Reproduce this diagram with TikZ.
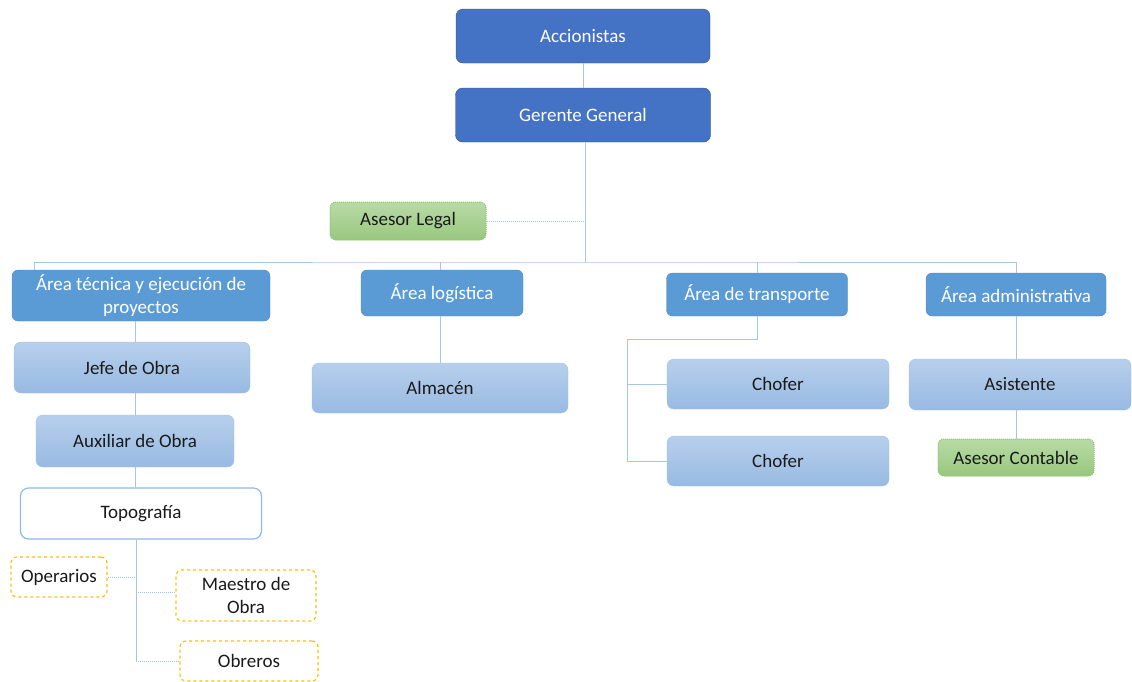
\documentclass[tikz,border=0pt]{standalone}
\usepackage{fontspec}
\setmainfont{Carlito}
\usepackage{tikz}
\usetikzlibrary{positioning, calc}
\definecolor{topblue}{HTML}{4472C4}
\definecolor{topedge}{HTML}{2F528F}
\definecolor{areablue}{HTML}{5B9BD5}
\definecolor{areaedge}{HTML}{4E8AC4}
\definecolor{paletop}{HTML}{B7CFEC}
\definecolor{palebot}{HTML}{98BAE2}
\definecolor{paleedge}{HTML}{9DC0E8}
\definecolor{linkblue}{HTML}{A5C6E8}
\definecolor{greentop}{HTML}{B9DAA6}
\definecolor{greenbot}{HTML}{98C87F}
\definecolor{greenedge}{HTML}{8CC06E}
\definecolor{gold}{HTML}{FFC000}
\definecolor{ink}{HTML}{1A1A1A}

\begin{document}
\begin{tikzpicture}[x=1pt, y=-1pt,
      every node/.style={font=\fontsize{19}{23.5}\selectfont, inner sep=0pt},
      topbox/.style={draw=topedge, fill=topblue, text=white, rounded corners=7pt},
      areabox/.style={draw=areaedge, fill=areablue, text=white, rounded corners=6pt, align=center},
      palebox/.style={draw=paleedge, top color=paletop, bottom color=palebot, text=ink, rounded corners=7pt},
      advbox/.style={draw=greenedge, densely dotted, line width=1pt, top color=greentop, bottom color=greenbot, text=ink, rounded corners=6pt},
      crewbox/.style={draw=gold, dashed, line width=1.2pt, fill=white, text=ink, rounded corners=6pt, align=center},
      conn/.style={draw=linkblue, line width=1pt},
      dotline/.style={draw=linkblue, line width=1pt, densely dotted}]

    \useasboundingbox (0,0) rectangle (1132,681);

    % Top
    \node[topbox, minimum width=254pt, minimum height=54pt] (acc) at (583,36) {Accionistas};
    \node[topbox, minimum width=255pt, minimum height=54pt] (ger) at (583,115) {Gerente General};
    \node[advbox, minimum width=156pt, minimum height=38pt] (legal) at (408,221) {Asesor Legal};

    % Areas
    \node[areabox, minimum width=258pt, minimum height=51pt] (tec) at (141,295.5)
      {Área técnica y ejecución de\\proyectos};
    \node[areabox, minimum width=162pt, minimum height=46pt] (log) at (442,293) {Área logística};
    \node[areabox, minimum width=181pt, minimum height=43pt] (tra) at (757,294.5) {Área de transporte};
    \node[areabox, minimum width=180pt, minimum height=43pt] (adm) at (1016,294.5) {Área administrativa};

    % Technical column
    \node[palebox, minimum width=236pt, minimum height=51pt] (jefe) at (132,367.5) {Jefe de Obra};
    \node[palebox, minimum width=198pt, minimum height=52pt] (aux) at (135,441) {Auxiliar de Obra};
    \node[draw=paleedge!80!areablue, line width=1.2pt, fill=white, text=ink, rounded corners=8pt,
      minimum width=241pt, minimum height=51pt] (topo) at (141,513.5) {Topografía};
    \node[crewbox, minimum width=96pt, minimum height=40pt] (oper) at (59,577) {Operarios};
    \node[crewbox, minimum width=140pt, minimum height=51pt] (maes) at (246,595.5) {Maestro de\\Obra};
    \node[crewbox, minimum width=138pt, minimum height=40pt] (obre) at (249,661) {Obreros};

    % Other columns
    \node[palebox, minimum width=256pt, minimum height=50pt] (alm) at (440,388) {Almacén};
    \node[palebox, minimum width=222pt, minimum height=50pt] (ch1) at (778,384) {Chofer};
    \node[palebox, minimum width=222pt, minimum height=50pt] (ch2) at (778,461) {Chofer};
    \node[palebox, minimum width=222pt, minimum height=51pt] (asis) at (1020,384.5) {Asistente};
    \node[advbox, minimum width=156pt, minimum height=37pt] (cont) at (1016,457.5) {Asesor Contable};

    % Connectors
    \coordinate (bus) at (585,262);
    \coordinate (col) at (135,0);
    \coordinate (tp) at (136,661);
    \coordinate (tr) at (627,339);

    \draw[conn] (acc) -- (ger);
    \draw[conn] (ger.south -| bus) -- (bus);
    \draw[conn] ([xshift=23pt]tec.north west) |- (bus) -| (adm.north);
    \draw[conn] (log.north -| alm) -- (alm.north |- bus);
    \draw[conn] (tra.north) -- (tra.north |- bus);
    \draw[dotline] (legal.east) -- (legal.east -| bus);

    \draw[conn] (tec.south -| col) -- (jefe.north -| col);
    \draw[conn] (jefe.south -| col) -- (aux.north -| col);
    \draw[conn] (aux.south -| col) -- (topo.north -| col);
    \draw[conn] (topo.south -| tp) -- (tp);
    \draw[dotline] (oper.east) -- (oper.east -| tp);
    \draw[dotline] ([yshift=3pt]maes.west) -- ([yshift=3pt]maes.west -| tp);
    \draw[dotline] (obre.west) -- (tp);

    \draw[conn] (log.south -| alm) -- (alm.north);
    \draw[conn] (tra.south) |- (tr) |- (ch2.west);
    \draw[conn] (tr |- ch1.west) -- (ch1.west);
    \draw[conn] (adm.south) -- (adm.south |- asis.north);
    \draw[conn] (cont.north |- asis.south) -- (cont.north);
  \end{tikzpicture}
\end{document}
